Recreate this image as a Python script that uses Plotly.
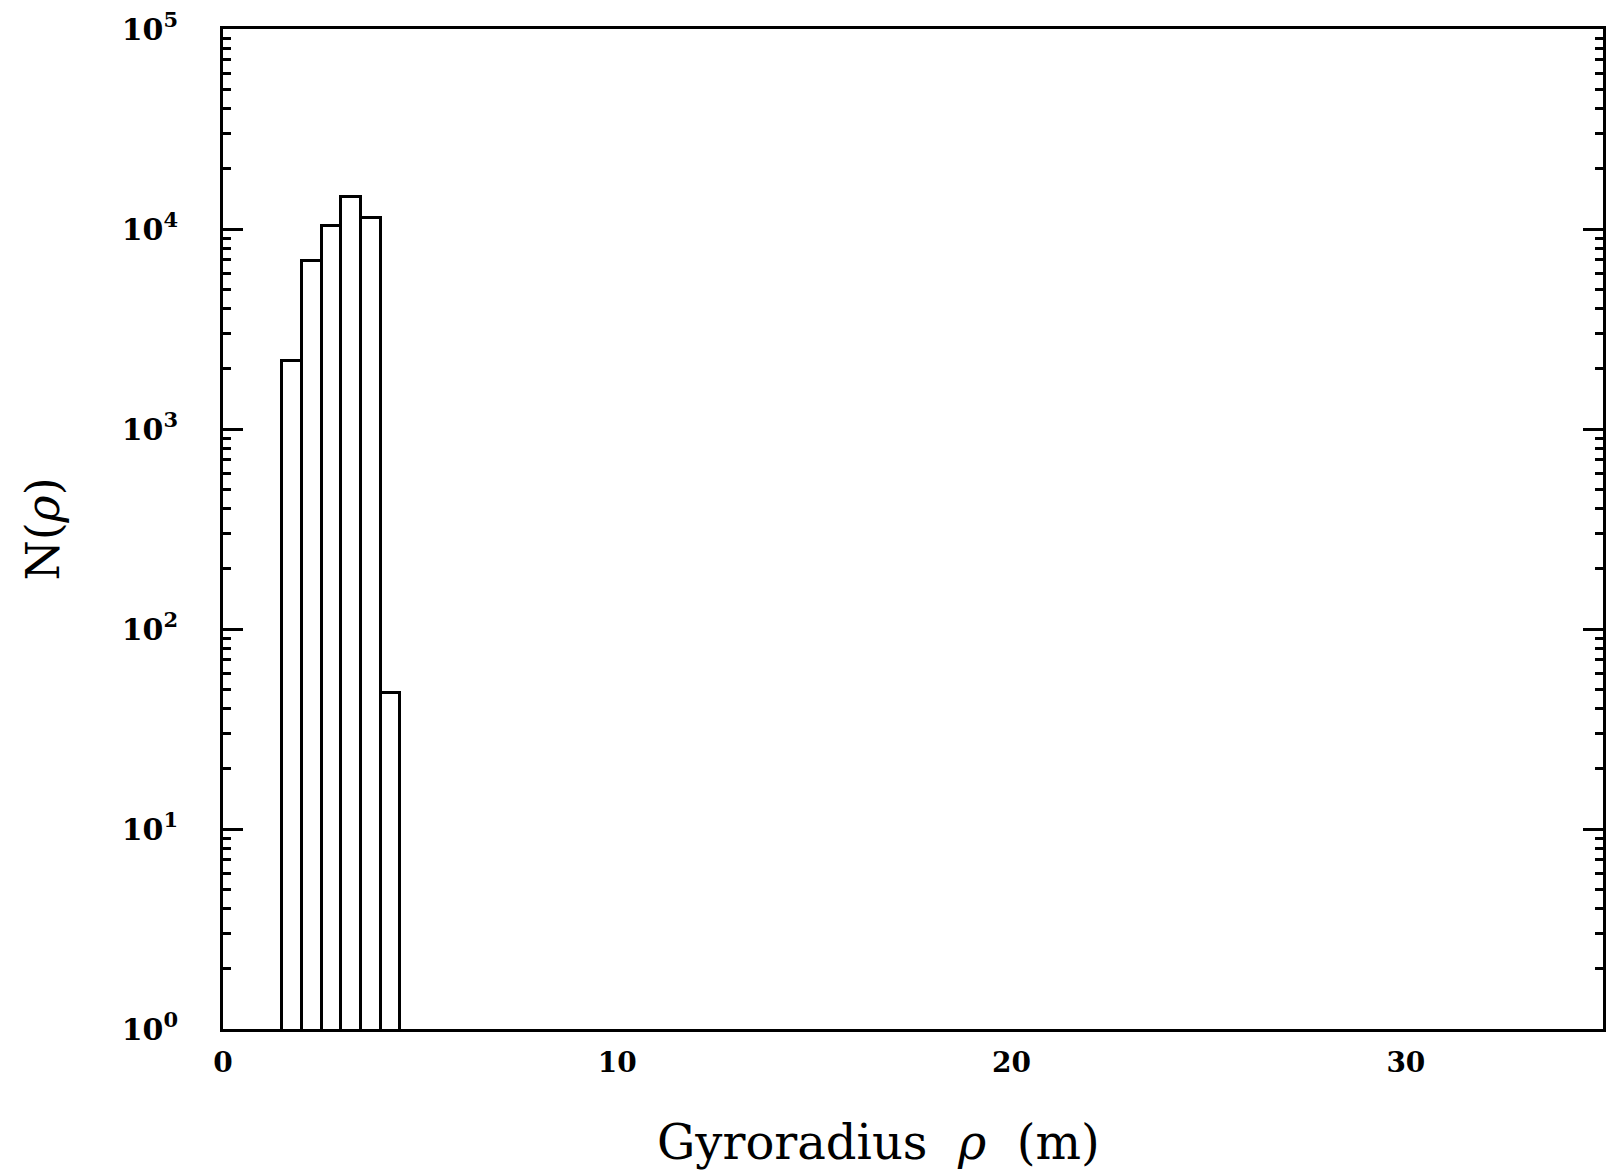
import plotly.graph_objects as go

# Histogram of gyroradius: bin edges (m) and counts per bin
bin_edges = [1.5, 2.0, 2.5, 3.0, 3.5, 4.0, 4.5]
counts = [2200, 6900, 10300, 14500, 11400, 48]

x_tick_vals = [0, 10, 20, 30]
x_tick_text = ["0", "10", "20", "30"]
y_tick_vals = [1, 10, 100, 1000, 10000, 100000]
y_tick_text = ["10<sup>0</sup>", "10<sup>1</sup>", "10<sup>2</sup>",
               "10<sup>3</sup>", "10<sup>4</sup>", "10<sup>5</sup>"]
y_minor_vals = [m * 10 ** d for d in range(0, 5) for m in range(2, 10)]

centers = [(a + b) / 2 for a, b in zip(bin_edges[:-1], bin_edges[1:])]
widths = [b - a for a, b in zip(bin_edges[:-1], bin_edges[1:])]

serif = "DejaVu Serif"

fig = go.Figure(
    go.Bar(
        x=centers,
        y=counts,
        width=widths,
        marker=dict(color="white", line=dict(color="black", width=3)),
        hoverinfo="x+y",
    )
)

fig.update_layout(
    width=1609,
    height=1174,
    margin=dict(l=223, r=3, t=29, b=145),
    plot_bgcolor="white",
    paper_bgcolor="white",
    showlegend=False,
    bargap=0,
)

fig.update_xaxes(
    range=[0, 35],
    tickmode="array",
    tickvals=x_tick_vals,
    ticktext=x_tick_text,
    ticks="",
    showgrid=False,
    zeroline=False,
    showline=True,
    linecolor="black",
    linewidth=3,
    mirror=True,
    ticklabelstandoff=6,
    tickfont=dict(family=serif, size=28, color="black", weight="bold"),
)

# x-axis title, placed slightly left of the plot centre
fig.add_annotation(
    text="Gyroradius  <i>ρ</i>  (m)",
    xref="paper", yref="paper",
    x=0.475, y=-0.113,
    xanchor="center", yanchor="middle",
    showarrow=False,
    font=dict(family=serif, size=48, color="black"),
)

fig.update_yaxes(
    type="log",
    range=[0, 5],
    tickmode="array",
    tickvals=y_tick_vals,
    ticktext=y_tick_text,
    ticks="inside",
    ticklen=20,
    tickwidth=2.5,
    tickcolor="black",
    minor=dict(
        tickmode="array",
        tickvals=y_minor_vals,
        ticks="inside",
        ticklen=8,
        tickwidth=2.5,
        tickcolor="black",
        showgrid=False,
    ),
    showgrid=False,
    zeroline=False,
    showline=True,
    linecolor="black",
    linewidth=3,
    mirror="ticks",
    ticklabelstandoff=36,
    tickfont=dict(family=serif, size=30, color="black", weight="bold"),
    title=dict(
        text="N(<i>ρ</i>)",
        font=dict(family=serif, size=46, color="black"),
        standoff=48,
    ),
)

fig.write_html("out.html")
